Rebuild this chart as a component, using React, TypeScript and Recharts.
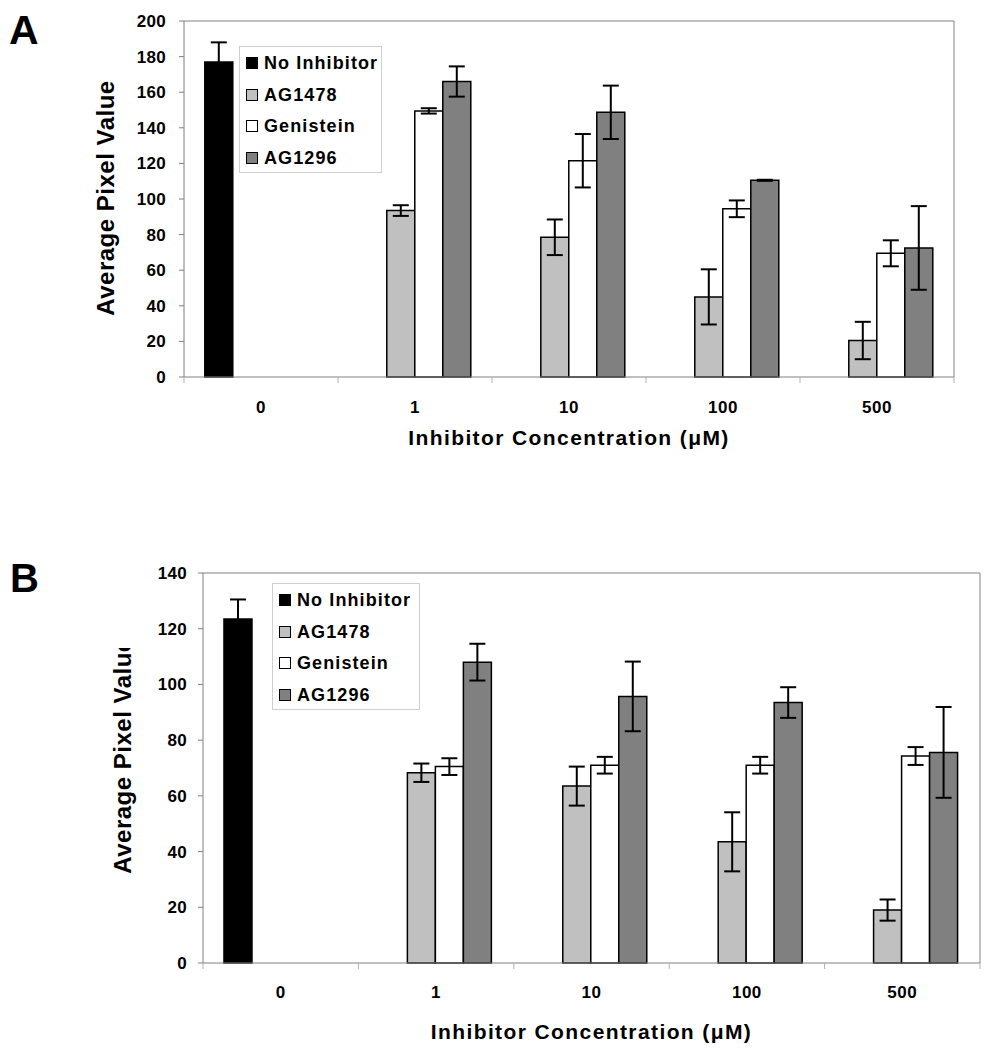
import React from "react";
import { BarChart, Bar, XAxis, YAxis, ErrorBar, Label } from "recharts";

const FONT = "Arial, 'Liberation Sans', Helvetica, sans-serif";
const AXIS_GREY = "#808080";

const categories = ["0", "1", "10", "100", "500"];
const seriesNames = ["No Inhibitor", "AG1478", "Genistein", "AG1296"];
const seriesColors = ["#000000", "#c0c0c0", "#ffffff", "#808080"];

// panel A
const noInhibitorA = [177, null, null, null, null];
const noInhibitorAErr = [11, null, null, null, null];
const ag1478A = [null, 93.5, 78.5, 45, 20.5];
const ag1478AErr = [null, 3, 10, 15.5, 10.5];
const genisteinA = [null, 149.5, 121.5, 94.5, 69.5];
const genisteinAErr = [null, 1.5, 15, 4.7, 7.3];
const ag1296A = [null, 166, 148.7, 110.5, 72.5];
const ag1296AErr = [null, 8.5, 15, 0.3, 23.5];
const yTicksA = [0, 20, 40, 60, 80, 100, 120, 140, 160, 180, 200];

// panel B
const noInhibitorB = [123.5, null, null, null, null];
const noInhibitorBErr = [7, null, null, null, null];
const ag1478B = [null, 68.3, 63.5, 43.5, 19];
const ag1478BErr = [null, 3.3, 7, 10.6, 3.8];
const genisteinB = [null, 70.5, 71, 71, 74.3];
const genisteinBErr = [null, 3, 3, 3, 3.2];
const ag1296B = [null, 108, 95.7, 93.5, 75.6];
const ag1296BErr = [null, 6.6, 12.5, 5.5, 16.3];
const yTicksB = [0, 20, 40, 60, 80, 100, 120, 140];

type Num = number | null;

function buildRows(values: Num[][], errors: Num[][]) {
  return categories.map((name, i) => {
    const row: Record<string, any> = { name };
    values.forEach((v, s) => {
      row[`s${s}`] = v[i];
      row[`e${s}`] = errors[s][i];
    });
    return row;
  });
}

const rowsA = buildRows(
  [noInhibitorA, ag1478A, genisteinA, ag1296A],
  [noInhibitorAErr, ag1478AErr, genisteinAErr, ag1296AErr]
);
const rowsB = buildRows(
  [noInhibitorB, ag1478B, genisteinB, ag1296B],
  [noInhibitorBErr, ag1478BErr, genisteinBErr, ag1296BErr]
);

type PanelProps = {
  letter: string;
  letterPos: { left: number; top: number; size: number };
  rows: Record<string, any>[];
  yTicks: number[];
  top: number;
  height: number;
  margin: { top: number; right: number; bottom: number; left: number };
  yTickMargin: number;
  xTickMargin: number;
  labelAxisHeight: number;
  titleX: number;
  titleY: number;
  titleClipTop?: number;
  legend: { left: number; top: number; width: number; height: number };
};

function LegendBox({ left, top, width, height }: PanelProps["legend"]) {
  return (
    <div
      style={{
        position: "absolute",
        left,
        top,
        width,
        height,
        boxSizing: "border-box",
        border: "1px solid #cfcfcf",
        background: "#fff",
        fontFamily: FONT,
      }}
    >
      {seriesNames.map((n, i) => (
        <div
          key={n}
          style={{
            position: "absolute",
            left: 6,
            top: 8 + i * 31.7,
            height: 16,
            display: "flex",
            alignItems: "center",
            whiteSpace: "nowrap",
          }}
        >
          <span
            style={{
              display: "inline-block",
              width: 12,
              height: 12,
              boxSizing: "border-box",
              border: "1px solid #000",
              background: seriesColors[i],
            }}
          />
          <span
            style={{
              marginLeft: 6,
              fontSize: 18,
              fontWeight: 700,
              letterSpacing: 1.1,
              lineHeight: "16px",
              color: "#000",
            }}
          >
            {n}
          </span>
        </div>
      ))}
    </div>
  );
}

// category label plus the small boundary ticks between groups (Excel style)
const makeCatTick = (tickMargin: number) => (props: any) => {
  const { x, y, payload, index, visibleTicksCount, width } = props;
  const band = width / visibleTicksCount;
  const axisY = y - tickMargin;
  return (
    <g>
      <line x1={x - band / 2} x2={x - band / 2} y1={axisY} y2={axisY + 6} stroke="#b0b0b0" />
      {index === visibleTicksCount - 1 && (
        <line x1={x + band / 2} x2={x + band / 2} y1={axisY} y2={axisY + 6} stroke="#b0b0b0" />
      )}
      <text
        x={x}
        y={y}
        dy="0.71em"
        textAnchor="middle"
        fontFamily={FONT}
        fontSize={17}
        fontWeight={700}
        letterSpacing={0.5}
        fill="#000"
      >
        {payload.value}
      </text>
    </g>
  );
};

function Panel(p: PanelProps) {
  const yMax = p.yTicks[p.yTicks.length - 1];
  const clipId = `clip-${p.letter}`;
  const renderYTitle = () => (
    <g clipPath={p.titleClipTop != null ? `url(#${clipId})` : undefined}>
      {p.titleClipTop != null && (
        <defs>
          <clipPath id={clipId}>
            <rect x={0} y={p.titleClipTop} width={200} height={p.height} />
          </clipPath>
        </defs>
      )}
      <text
        x={p.titleX}
        y={p.titleY}
        transform={`rotate(-90, ${p.titleX}, ${p.titleY})`}
        textAnchor="middle"
        fontFamily={FONT}
        fontSize={24}
        fontWeight={700}
        letterSpacing={0.5}
        fill="#000"
      >
        Average Pixel Value
      </text>
    </g>
  );

  return (
    <div style={{ position: "absolute", left: 0, top: p.top, width: 997, height: p.height }}>
      <BarChart
        width={997}
        height={p.height}
        data={p.rows}
        margin={p.margin}
        barGap={0}
        barCategoryGap="13.5%"
      >
        <XAxis xAxisId="top" orientation="top" height={1} tick={false} tickLine={false} axisLine={{ stroke: AXIS_GREY }} />
        <XAxis
          xAxisId="cat"
          dataKey="name"
          height={p.labelAxisHeight}
          axisLine={{ stroke: AXIS_GREY }}
          tickLine={false}
          tickSize={0}
          tickMargin={p.xTickMargin}
          interval={0}
          tick={makeCatTick(p.xTickMargin)}
        >
          <Label
            value="Inhibitor Concentration (μM)"
            position="bottom"
            offset={0}
            fontSize={21}
            fontWeight={700}
            fill="#000"
            fontFamily={FONT}
            letterSpacing={1.4}
          />
        </XAxis>
        <YAxis
          yAxisId="val"
          domain={[0, yMax]}
          ticks={p.yTicks}
          interval={0}
          width={60}
          tickSize={5}
          tickMargin={p.yTickMargin}
          axisLine={{ stroke: AXIS_GREY }}
          tickLine={{ stroke: AXIS_GREY }}
          tick={{ fontSize: 17, fontWeight: 700, fill: "#000", fontFamily: FONT, letterSpacing: 0.3 }}
        >
          <Label content={renderYTitle} />
        </YAxis>
        <YAxis yAxisId="border" orientation="right" width={1} domain={[0, yMax]} tick={false} tickLine={false} axisLine={{ stroke: AXIS_GREY }} />
        {seriesNames.map((n, s) => (
          <Bar
            key={n}
            name={n}
            dataKey={`s${s}`}
            xAxisId="cat"
            yAxisId="val"
            fill={seriesColors[s]}
            stroke="#000"
            strokeWidth={1.5}
            isAnimationActive={false}
          >
            <ErrorBar dataKey={`e${s}`} direction="y" width={8} stroke="#000" strokeWidth={2} />
          </Bar>
        ))}
      </BarChart>
      <LegendBox {...p.legend} />
      <div
        style={{
          position: "absolute",
          left: p.letterPos.left,
          top: p.letterPos.top,
          fontFamily: FONT,
          fontWeight: 700,
          fontSize: p.letterPos.size,
          lineHeight: 1,
          color: "#000",
        }}
      >
        {p.letter}
      </div>
    </div>
  );
}

export default function App() {
  return (
    <div style={{ position: "absolute", left: 0, top: 0, width: 997, height: 1050, background: "#fff" }}>
      <Panel
        letter="A"
        letterPos={{ left: 9, top: 10, size: 41 }}
        rows={rowsA}
        yTicks={yTicksA}
        top={0}
        height={480}
        margin={{ top: 20, right: 42, bottom: 50, left: 124 }}
        yTickMargin={13}
        xTickMargin={24}
        labelAxisHeight={53}
        titleX={114}
        titleY={198}
        legend={{ left: 239, top: 46, width: 143, height: 127 }}
      />
      <Panel
        letter="B"
        letterPos={{ left: 10, top: 18, size: 40 }}
        rows={rowsB}
        yTicks={yTicksB}
        top={540}
        height={510}
        margin={{ top: 32, right: 16, bottom: 26, left: 143 }}
        yTickMargin={11}
        xTickMargin={23}
        labelAxisHeight={61}
        titleX={131}
        titleY={216}
        titleClipTop={108}
        legend={{ left: 272, top: 43, width: 148, height: 127 }}
      />
    </div>
  );
}
